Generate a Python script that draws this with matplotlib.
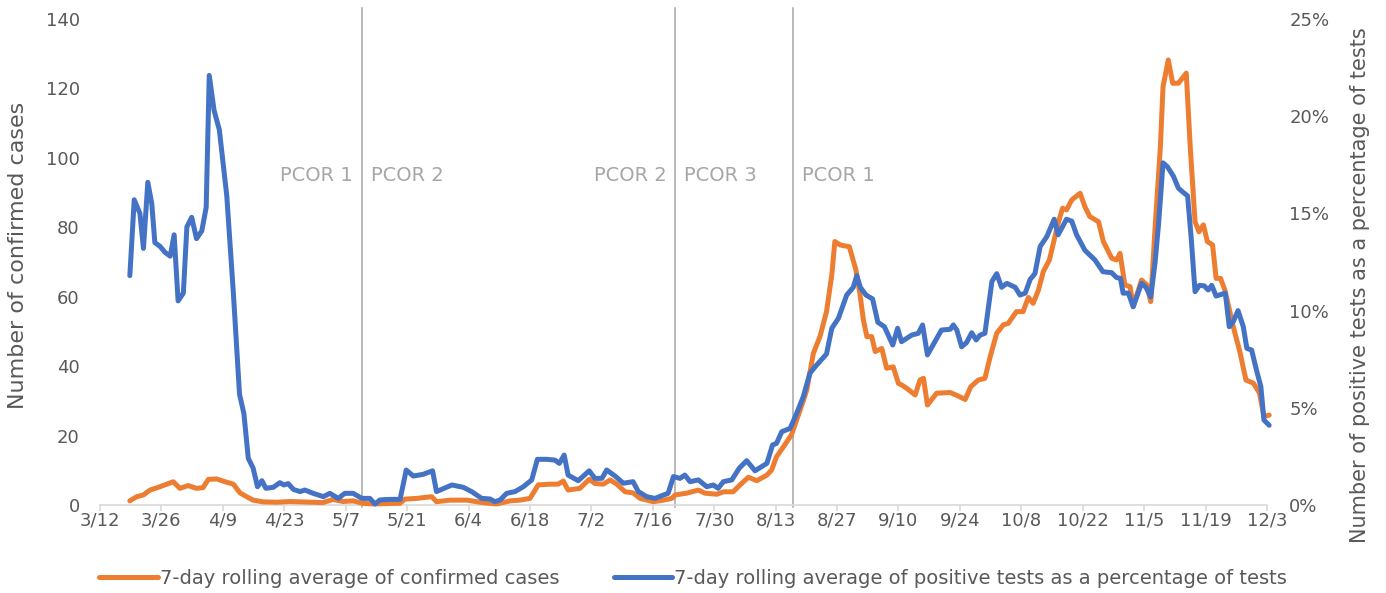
import matplotlib
matplotlib.use("Agg")
import matplotlib.pyplot as plt
from matplotlib.ticker import FixedLocator, FuncFormatter

# ---- data (x = days since 3/12) ----
tick_days = [0, 14, 28, 42, 56, 70, 84, 98, 112, 126, 140, 154, 168, 182, 196, 210, 224, 238, 252, 266]
tick_labels = ["3/12", "3/26", "4/9", "4/23", "5/7", "5/21", "6/4", "6/18", "7/2", "7/16",
               "7/30", "8/13", "8/27", "9/10", "9/24", "10/8", "10/22", "11/5", "11/19", "12/3"]

case_days = [6.8, 8.4, 9.9, 11.4, 13.3, 15.2, 16.7, 18.2, 20.1, 22.0, 23.5, 24.7, 26.6, 28.5, 30.4,
             31.9, 33.4, 34.9, 37.2, 40.3, 43.3, 45.6, 50.8, 53.1, 55.4, 57.7, 59.7, 62.2, 68.4, 69.5,
             72.2, 75.6, 76.7, 79.8, 83.6, 87.3, 90.4, 93.5, 95.7, 98.0, 99.9, 102.6, 104.4, 105.6,
             106.7, 109.4, 111.5, 112.8, 114.7, 116.3, 117.8, 119.7, 121.5, 123.1, 126.1, 128.4,
             130.3, 131.1, 133.7, 136.4, 137.9, 140.6, 142.1, 144.3, 145.9, 147.8, 149.7, 152.0,
             153.1, 154.2, 155.8, 157.6, 159.6, 161.1, 162.6, 164.1, 165.6, 166.8, 167.5, 168.7,
             170.8, 172.3, 173.2, 174.0, 174.8, 175.9, 176.7, 178.2, 179.3, 180.8, 182.0, 182.7,
             183.9, 185.8, 186.9, 187.7, 188.6, 190.7, 193.8, 195.6, 197.2, 198.5, 200.2, 201.7,
             202.9, 204.4, 205.9, 207.0, 208.9, 210.4, 211.6, 212.7, 213.9, 215.0, 216.4, 217.3,
             218.4, 219.4, 220.3, 221.5, 223.4, 224.5, 225.6, 227.6, 228.7, 230.6, 231.7, 232.5,
             233.6, 234.8, 235.5, 237.4, 238.6, 239.5, 240.5, 241.7, 242.3, 243.5, 244.5, 245.8,
             247.6, 248.5, 249.6, 250.5, 251.5, 252.4, 253.6, 254.4, 255.4, 256.4, 258.3, 259.8,
             261.2, 262.9, 264.3, 265.3, 266.5]
cases = [1.2, 2.4, 2.9, 4.3, 5.1, 6.0, 6.7, 4.8, 5.6, 4.8, 5.0, 7.4, 7.5, 6.7, 6.0,
         3.5, 2.4, 1.4, 0.9, 0.8, 1.0, 0.9, 0.7, 1.6, 1.0, 1.2, 0.5, 0.3, 0.5, 1.7,
         1.9, 2.4, 0.95, 1.4, 1.4, 0.66, 0.3, 1.2, 1.4, 1.9, 5.8, 6.0, 6.0, 6.9,
         4.3, 4.8, 7.4, 6.2, 6.0, 7.2, 6.0, 3.8, 3.5, 1.9, 0.95, 1.4,
         1.9, 2.9, 3.4, 4.3, 3.4, 3.1, 3.8, 3.8, 5.8, 8.0, 7.0, 8.6,
         10.1, 13.9, 16.8, 20.2, 27.4, 33.1, 43.7, 48.5, 55.7, 66.3, 75.9, 74.9,
         74.4, 67.7, 61.0, 53.3, 48.5, 48.5, 44.2, 45.1, 39.4, 39.8, 35.0, 34.6,
         33.6, 31.7, 36.0, 36.5, 28.8, 32.2, 32.4, 31.4, 30.4, 34.1, 36.0, 36.5,
         42.7, 49.5, 51.9, 52.3, 55.7, 55.7, 59.8, 58.1, 61.9, 67.2, 70.6, 75.4,
         81.2, 85.5, 85.0, 87.9, 89.8, 85.9, 83.1, 81.6, 75.9, 71.1, 70.6, 72.5,
         63.4, 62.9, 57.1, 64.8, 63.4, 58.6, 80.2, 103.2, 120.5, 128.2, 121.5, 121.5,
         124.4, 103.2, 81.6, 78.7, 80.7, 75.9, 74.9, 65.3, 65.3, 61.9, 51.4, 44.2,
         36.0, 35.1, 32.2, 25.5, 25.9]

pos_days = [6.8, 7.8, 9.1, 9.9, 10.9, 11.8, 12.5, 13.7, 14.8, 16.0, 16.9, 17.8, 19.0, 19.8, 20.9,
            22.0, 23.2, 24.2, 24.9, 26.0, 27.2, 28.9, 30.4, 31.8, 32.8, 33.8, 34.9, 35.9, 36.9,
            37.8, 39.5, 41.0, 41.9, 42.9, 44.1, 45.6, 46.7, 48.6, 50.9, 52.4, 54.3, 55.8, 57.7,
            59.7, 61.5, 62.7, 63.8, 66.1, 68.4, 69.8, 71.4, 73.7, 75.8, 76.7, 80.2, 82.8, 84.7,
            87.0, 88.9, 90.0, 91.2, 92.7, 94.6, 96.5, 98.4, 99.7, 101.8, 103.7, 104.7, 105.8,
            106.7, 109.0, 111.5, 112.8, 114.4, 115.5, 117.4, 119.3, 121.5, 122.7, 124.6, 126.5,
            128.4, 129.5, 130.7, 132.2, 133.3, 134.5, 136.4, 138.3, 139.8, 140.9, 142.1, 144.0,
            145.7, 147.4, 149.3, 152.0, 153.3, 154.2, 155.4, 157.3, 158.8, 160.3, 161.8, 163.0,
            165.6, 166.8, 168.3, 170.2, 171.7, 172.5, 173.3, 174.6, 176.1, 177.3, 178.8, 180.7,
            181.8, 182.7, 185.0, 186.5, 187.5, 188.6, 190.3, 191.8, 193.8, 194.5, 195.3, 196.4,
            197.5, 198.7, 199.7, 200.6, 201.7, 203.3, 204.4, 205.5, 206.7, 208.6, 209.7, 210.9,
            212.0, 213.1, 214.3, 215.8, 217.5, 218.4, 220.3, 221.5, 222.6, 224.5, 226.8, 228.6,
            230.6, 231.7, 232.6, 233.2, 234.4, 235.5, 237.4, 238.4, 239.5, 240.5, 241.3, 242.3,
            243.3, 244.7, 245.8, 246.8, 247.9, 248.7, 249.6, 250.6, 251.7, 252.6, 253.4, 254.4,
            256.5, 257.4, 258.3, 259.4, 260.6, 261.4, 262.5, 263.6, 264.6, 265.3, 266.5]
pos_pct = [11.8, 15.7, 15.0, 13.2, 16.6, 15.5, 13.5, 13.3, 13.0, 12.8, 13.9, 10.5, 10.9, 14.3, 14.8,
           13.7, 14.1, 15.3, 22.1, 20.3, 19.3, 15.9, 10.9, 5.7, 4.7, 2.4, 1.9, 0.94, 1.25,
           0.86, 0.91, 1.15, 1.03, 1.1, 0.8, 0.69, 0.77, 0.6, 0.43, 0.6, 0.34, 0.6, 0.6,
           0.34, 0.34, 0.05, 0.26, 0.29, 0.29, 1.8, 1.49, 1.58, 1.76, 0.69, 1.03, 0.91, 0.69,
           0.34, 0.31, 0.17, 0.26, 0.6, 0.69, 0.94, 1.29, 2.35, 2.35, 2.31, 2.14, 2.57,
           1.54, 1.25, 1.76, 1.37, 1.37, 1.8, 1.49, 1.12, 1.2, 0.69, 0.43, 0.34,
           0.51, 0.6, 1.46, 1.37, 1.54, 1.2, 1.29, 0.94, 1.03, 0.86, 1.2, 1.29,
           1.89, 2.28, 1.76, 2.14, 3.09, 3.17, 3.77, 3.94, 4.72, 5.57, 6.77, 7.11,
           7.77, 9.09, 9.6, 10.8, 11.2, 11.8, 11.2, 10.8, 10.6, 9.4, 9.17, 8.23,
           9.09, 8.4, 8.74, 8.83, 9.26, 7.72, 8.4, 9.0, 9.04, 9.26, 9.0, 8.14,
           8.35, 8.86, 8.49, 8.74, 8.83, 11.5, 11.9, 11.2, 11.4, 11.2, 10.8, 10.9,
           11.6, 11.9, 13.3, 13.8, 14.7, 13.9, 14.7, 14.6, 13.9, 13.1, 12.6, 12.0,
           11.95, 11.7, 11.66, 10.9, 10.9, 10.2, 11.4, 11.2, 10.7, 12.5, 14.5, 17.6,
           17.4, 16.9, 16.3, 16.1, 15.9, 13.8, 10.97, 11.3, 11.27, 11.06, 11.3, 10.75,
           10.9, 9.17, 9.43, 10.0, 9.17, 8.06, 7.97, 6.94, 6.09, 4.37, 4.1]

phase_days = [59.7, 131.1, 158.0]
phase_left = ["PCOR 1", "PCOR 2", None]
phase_right = ["PCOR 2", "PCOR 3", "PCOR 1"]

ORANGE = "#ED7D31"
BLUE = "#4472C4"
TXT = "#595959"
FONT = "DejaVu Sans"

plt.rcParams["font.family"] = FONT

fig = plt.figure(figsize=(13.86, 5.93), dpi=100)
ax = fig.add_axes([100 / 1386, 88 / 593, 1167 / 1386, 486 / 593])
ax2 = ax.twinx()

l1, = ax.plot(case_days, cases, color=ORANGE, lw=3.6, solid_joinstyle="round",
              solid_capstyle="round", clip_on=False, zorder=3)
l2, = ax2.plot(pos_days, pos_pct, color=BLUE, lw=3.6, solid_joinstyle="round",
               solid_capstyle="round", clip_on=False, zorder=3)

ax.set_xlim(0, 266)
ax.set_ylim(0, 140)
ax2.set_ylim(0, 25)

ax.xaxis.set_major_locator(FixedLocator(tick_days))
ax.set_xticklabels(tick_labels)
ax.set_yticks(range(0, 141, 20))
ax2.set_yticks(range(0, 26, 5))
ax2.yaxis.set_major_formatter(FuncFormatter(lambda v, p: f"{int(v)}%"))

for a in (ax, ax2):
    for s in ("top", "left", "right", "bottom"):
        a.spines[s].set_visible(False)
ax.spines["bottom"].set_visible(True)
ax.spines["bottom"].set_color("#d9d9d9")
ax.spines["bottom"].set_linewidth(1.2)

ax.tick_params(axis="x", colors="#d9d9d9", length=4, width=1.2, labelcolor=TXT, labelsize=13, pad=1)
ax.tick_params(axis="y", length=0, labelcolor=TXT, labelsize=13, pad=14.5)
ax2.tick_params(axis="y", length=0, labelcolor=TXT, labelsize=13, pad=16)

ax.set_ylabel("Number of confirmed cases", color=TXT, fontsize=16, rotation=90, va="center")
ax.yaxis.set_label_coords(-0.0703, 0.514)
ax2.set_ylabel("Number of positive tests as a percentage of tests", color=TXT, fontsize=15,
               rotation=90, va="center")
ax2.yaxis.set_label_coords(1.0797, 0.453)

for d, lt, rt in zip(phase_days, phase_left, phase_right):
    ax.plot([d, d], [-0.6, 143.3], color="#a6a6a6", lw=1.1, clip_on=False, zorder=2)
    if lt:
        ax.text(d - 2, 95, lt, ha="right", va="center", color="#a6a6a6", fontsize=14)
    if rt:
        ax.text(d + 2, 95, rt, ha="left", va="center", color="#a6a6a6", fontsize=14)

leg = fig.legend([l1, l2],
                 ["7-day rolling average of confirmed cases",
                  "7-day rolling average of positive tests as a percentage of tests"],
                 loc="center", bbox_to_anchor=(0.5, 1 - 578 / 593), ncol=2, frameon=False,
                 fontsize=14, handlelength=3.0, handletextpad=0.1, columnspacing=2.8)
for t in leg.get_texts():
    t.set_color(TXT)

fig.savefig("out.png", dpi=100)
